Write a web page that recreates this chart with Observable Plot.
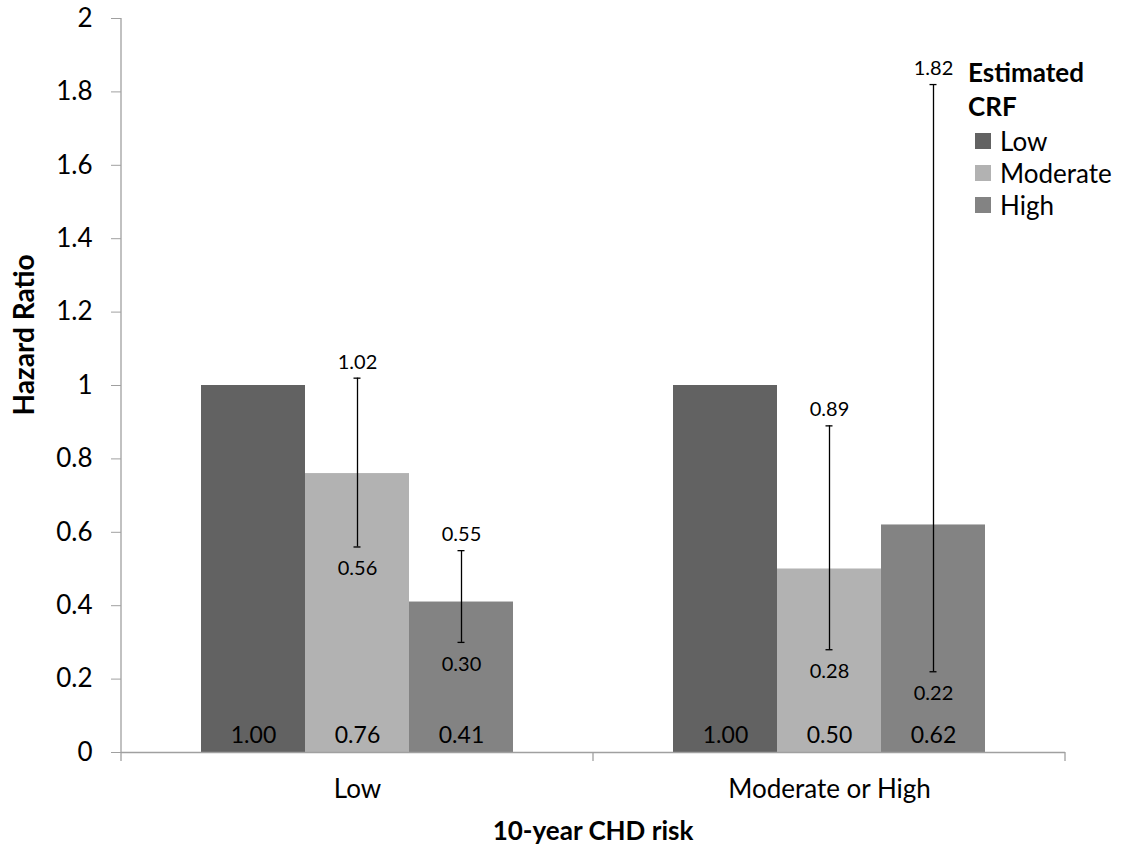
<!DOCTYPE html>
<html>
<head>
<meta charset="utf-8">
<script src="https://cdn.jsdelivr.net/npm/d3@7"></script>
<script src="https://cdn.jsdelivr.net/npm/@observablehq/plot@0.6"></script>
<style>
  html, body { margin: 0; padding: 0; background: #fff; }
  #chart { position: relative; width: 1127px; height: 846px; }
  svg { font-family: Lato, "Open Sans", sans-serif; }
</style>
</head>
<body>
<div id="chart"></div>
<script>
// ---- data ----
const riskGroups = ["Low", "Moderate or High"];
const crfLevels = ["Low", "Moderate", "High"];
const hrLowRisk = [1.00, 0.76, 0.41];
const hrModHighRisk = [1.00, 0.50, 0.62];
const lowerLowRisk = [null, 0.56, 0.30];
const upperLowRisk = [null, 1.02, 0.55];
const lowerModHighRisk = [null, 0.28, 0.22];
const upperModHighRisk = [null, 0.89, 1.82];
const yTicks = [0, 0.2, 0.4, 0.6, 0.8, 1, 1.2, 1.4, 1.6, 1.8, 2];
const yTickLabels = ["0", "0.2", "0.4", "0.6", "0.8", "1", "1.2", "1.4", "1.6", "1.8", "2"];
const crfColors = ["#626262", "#b2b2b2", "#838383"];

const hrByGroup = [hrLowRisk, hrModHighRisk];
const lowerByGroup = [lowerLowRisk, lowerModHighRisk];
const upperByGroup = [upperLowRisk, upperModHighRisk];

const rows = [];
riskGroups.forEach((g, gi) => {
  crfLevels.forEach((c, ci) => {
    rows.push({
      group: g, crf: c, hr: hrByGroup[gi][ci],
      lower: lowerByGroup[gi][ci], upper: upperByGroup[gi][ci]
    });
  });
});
const ciRows = rows.filter(d => d.lower != null);

const W = 1127, H = 846;
const chart = Plot.plot({
  width: W, height: H,
  marginLeft: 121, marginRight: 62, marginTop: 18, marginBottom: 94,
  style: { fontFamily: "Lato, 'Open Sans', sans-serif", fontSize: "25px", color: "#000", background: "#fff" },
  fx: { domain: riskGroups, paddingInner: 0, paddingOuter: 0, label: null },
  x: { domain: crfLevels, paddingInner: 0, paddingOuter: 0.75, axis: null },
  y: { domain: [0, 2] },
  color: { domain: crfLevels, range: crfColors },
  marks: [
    Plot.barY(rows, { fx: "group", x: "crf", y: "hr", fill: "crf", inset: 0 }),
    Plot.ruleY([0], { stroke: "#a0a0a0", strokeWidth: 1.3 }),
    Plot.axisY({ ticks: yTicks, tickFormat: (d) => yTickLabels[yTicks.indexOf(d)], tickSize: 10, tickPadding: 19, fontSize: 26, stroke: "#a0a0a0", fill: "#000", label: null }),
    Plot.axisFx({ anchor: "bottom", tickSize: 0, tickPadding: 27, fontSize: 26, label: null }),
    Plot.text(rows, { fx: "group", x: "crf", y: 0, text: d => d.hr.toFixed(2), dy: -17, fontSize: 23, fill: "#000" }),
    Plot.ruleX(ciRows, { fx: "group", x: "crf", y1: "lower", y2: "upper", stroke: "#000", strokeWidth: 1.3 }),
    Plot.tickY(ciRows, { fx: "group", x: "crf", y: "lower", stroke: "#000", strokeWidth: 1.3, insetLeft: 48.5, insetRight: 48.5 }),
    Plot.tickY(ciRows, { fx: "group", x: "crf", y: "upper", stroke: "#000", strokeWidth: 1.3, insetLeft: 48.5, insetRight: 48.5 }),
    Plot.text(ciRows, { fx: "group", x: "crf", y: "upper", text: d => d.upper.toFixed(2), dy: -16, fontSize: 20, fill: "#000" }),
    Plot.text(ciRows, { fx: "group", x: "crf", y: "lower", text: d => d.lower.toFixed(2), dy: 22, fontSize: 20, fill: "#000" })
  ]
});

document.getElementById("chart").appendChild(chart);

// axis lines and boundary ticks through the scales
const svg = d3.select(chart);
const fx = chart.scale("fx");
const y = chart.scale("y");
const x0 = fx.apply(riskGroups[0]);
const y0 = y.apply(0), y2 = y.apply(2);
svg.append("line").attr("x1", x0).attr("x2", x0).attr("y1", y0).attr("y2", y2)
  .attr("stroke", "#a0a0a0").attr("stroke-width", 1.3);
const bounds = riskGroups.map(g => fx.apply(g)).concat([fx.apply(riskGroups[riskGroups.length - 1]) + fx.bandwidth]);
bounds.forEach(bx => {
  svg.append("line").attr("x1", bx).attr("x2", bx).attr("y1", y0).attr("y2", y0 + 9)
    .attr("stroke", "#a0a0a0").attr("stroke-width", 1.3);
});
svg.selectAll('g[aria-label="y-axis tick"] path').attr("stroke", "#a0a0a0");

// axis titles
svg.append("text").attr("transform", `translate(23,335) rotate(-90)`)
  .attr("text-anchor", "middle").attr("dominant-baseline", "central")
  .attr("font-weight", "bold").attr("font-size", 28).text("Hazard Ratio");
svg.append("text").attr("x", (fx.range[0] + fx.range[1]) / 2).attr("y", 830)
  .attr("text-anchor", "middle").attr("dominant-baseline", "central")
  .attr("font-weight", "bold").attr("font-size", 26).text("10-year CHD risk");

// legend
const lg = svg.append("g").attr("transform", "translate(968,0)").attr("text-anchor", "start");
lg.append("text").attr("x", 0).attr("y", 72).attr("dominant-baseline", "central")
  .attr("font-weight", "bold").attr("font-size", 26).text("Estimated");
lg.append("text").attr("x", 0).attr("y", 106).attr("dominant-baseline", "central")
  .attr("font-weight", "bold").attr("font-size", 26).text("CRF");
crfLevels.forEach((c, i) => {
  const cy = 141 + i * 32;
  lg.append("rect").attr("x", 7).attr("y", cy - 8).attr("width", 16).attr("height", 16)
    .attr("fill", chart.scale("color").apply(c));
  lg.append("text").attr("x", 32).attr("y", cy).attr("dominant-baseline", "central")
    .attr("font-size", 26).text(c);
});
</script>
</body>
</html>
